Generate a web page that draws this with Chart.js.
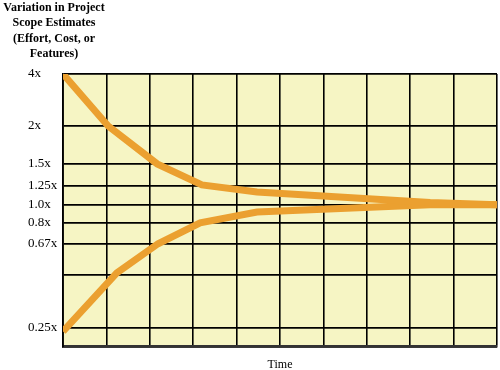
<!DOCTYPE html>
<html>
<head>
<meta charset="utf-8">
<script src="https://cdn.jsdelivr.net/npm/chart.js@4.4.1/dist/chart.umd.min.js"></script>
<style>
  html, body { margin: 0; padding: 0; background: #fff; }
  #wrap { position: relative; width: 500px; height: 370px; }
  #yTitle {
    position: absolute; left: 0; top: 0; width: 108px;
    text-align: center; color: #000;
    font: bold 12px/15.3px "Liberation Serif", serif;
  }
</style>
</head>
<body>
<div id="wrap">
  <canvas id="chart" width="500" height="370"></canvas>
  <div id="yTitle">Variation in Project<br>Scope Estimates<br>(Effort, Cost, or<br>Features)</div>
</div>
<script>
/* ---------- data ---------- */

const yTickValues = [0.2, 0.25, 0.5, 0.67, 0.8, 1.0, 1.25, 1.5, 2, 4];
const yTickLabels = ['', '0.25x', '', '0.67x', '0.8x', '1.0x', '1.25x', '1.5x', '2x', '4x'];

const upperTime  = [0, 1.04, 2.17, 3.2, 4.47, 8.46, 10];
const upperScope = [4, 2, 1.5, 1.26, 1.17, 1.03, 1.0];

const lowerTime  = [0, 1.24, 2.19, 3.16, 4.47, 8.46, 10];
const lowerScope = [0.24, 0.51, 0.67, 0.8, 0.92, 1.0, 1.0];

/* ---------- layout: where each y tick sits (fraction of plot height) ---------- */

const yTickSpacing = [0, 0.0696, 0.2637, 0.3773, 0.4542, 0.5201, 0.5897, 0.6703, 0.8095, 1];

function toDecimal(v) {
    let i = 0;
    while (i < yTickValues.length - 2 && v > yTickValues[i + 1]) i++;
    const t = (v - yTickValues[i]) / (yTickValues[i + 1] - yTickValues[i]);
    return yTickSpacing[i] + t * (yTickSpacing[i + 1] - yTickSpacing[i]);
}

function fromDecimal(d) {
    let i = 0;
    while (i < yTickSpacing.length - 2 && d > yTickSpacing[i + 1]) i++;
    const t = (d - yTickSpacing[i]) / (yTickSpacing[i + 1] - yTickSpacing[i]);
    return yTickValues[i] + t * (yTickValues[i + 1] - yTickValues[i]);
}

// uneven "schematic" axis of the original figure
class ConeScale extends Chart.LinearScale {
    buildTicks() {
        return yTickValues.map(v => ({ value: v }));
    }
    getPixelForValue(value) {
        return this.getPixelForDecimal(toDecimal(value));
    }
    getValueForPixel(pixel) {
        return fromDecimal(this.getDecimalForPixel(pixel));
    }
}
ConeScale.id = 'cone';
ConeScale.defaults = Chart.LinearScale.defaults;
Chart.register(ConeScale);

const plotBackground = {
    id: 'plotBackground',
    beforeDraw(chart) {
        const { ctx, chartArea: a } = chart;
        ctx.save();
        ctx.fillStyle = '#F6F5C4';
        ctx.fillRect(a.left, a.top, a.width, a.height);
        ctx.restore();
    }
};

const serif = 'Liberation Serif';
const orange = '#EBA030';

new Chart(document.getElementById('chart'), {
    type: 'line',
    data: {
        datasets: [
            {
                label: 'Upper',
                data: upperTime.map((t, i) => ({ x: t, y: upperScope[i] })),
                borderColor: orange,
                borderWidth: 7,
                pointRadius: 0,
                tension: 0
            },
            {
                label: 'Lower',
                data: lowerTime.map((t, i) => ({ x: t, y: lowerScope[i] })),
                borderColor: orange,
                borderWidth: 7,
                pointRadius: 0,
                tension: 0
            }
        ]
    },
    options: {
        responsive: false,
        animation: false,
        devicePixelRatio: 1,
        layout: { padding: { left: 28, right: 3, top: 74, bottom: 0 } },
        plugins: {
            legend: { display: false },
            tooltip: { enabled: false }
        },
        scales: {
            x: {
                type: 'linear',
                min: 0,
                max: 10,
                ticks: { display: false, stepSize: 1 },
                grid: { color: '#000', lineWidth: 1.6, drawTicks: false },
                border: { color: '#333', width: 2.5 },
                title: {
                    display: true,
                    text: 'Time',
                    color: '#000',
                    font: { family: serif, size: 12 },
                    padding: { top: 11, bottom: -2 }
                }
            },
            y: {
                type: 'cone',
                min: 0.2,
                max: 4,
                afterFit(scale) { scale.width = 35; },
                ticks: {
                    crossAlign: 'far',
                    autoSkip: false,
                    padding: 0,
                    color: '#000',
                    font: { family: serif, size: 13 },
                    callback: (v, i) => yTickLabels[i]
                },
                grid: { color: '#000', lineWidth: 1.8, drawTicks: false },
                border: { color: '#000', width: 1.8 }
            }
        }
    },
    plugins: [plotBackground]
});
</script>
</body>
</html>
